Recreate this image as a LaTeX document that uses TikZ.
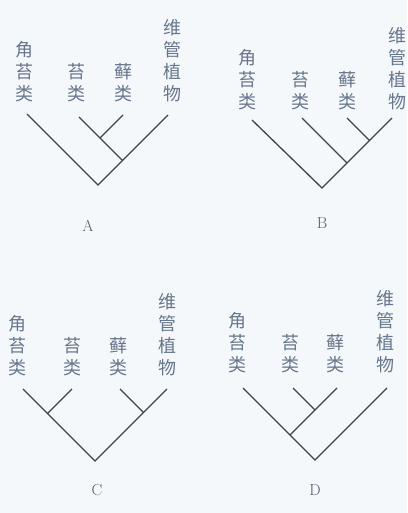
\documentclass[tikz,border=0pt]{standalone}
\usepackage{fontspec}
\newfontfamily\cjk{Noto Sans CJK SC}
\definecolor{bgc}{HTML}{F5F8FA}
\definecolor{txc}{HTML}{66768C}
\definecolor{lnc}{HTML}{3E444C}
\begin{document}
\begin{tikzpicture}[x=1pt,y=-1pt,
  taxon/.style={anchor=south,inner sep=0pt,align=center,text=txc,
    font=\fontsize{18}{22}\selectfont\cjk},
  panel/.style={inner sep=0pt,text=txc!80!black,font=\fontsize{16}{16}\selectfont},
  branch/.style={draw=lnc,line width=1.3pt}]
\fill[bgc] (0,0) rectangle (407,513);
\useasboundingbox (0,0) rectangle (407,513);
% ---------- A ----------
\node[taxon] (A1) at (25,102) {角\\苔\\类};
\node[taxon] (A2) at (76,102) {苔\\类};
\node[taxon] (A3) at (123,102) {藓\\类};
\node[taxon] (A4) at (172,102) {维\\管\\植\\物};
\coordinate (At1) at (27,114);
\coordinate (At2) at (79,117);
\coordinate (At3) at (123,115);
\coordinate (At4) at (168,115);
\coordinate (Ar) at (98,185);
\coordinate (Aj1) at (122.5,160.5);
\coordinate (Aj2) at (100,138);
\draw[branch] (At1) -- (Ar) -- (At4);
\draw[branch] (At2) -- (Aj1);
\draw[branch] (At3) -- (Aj2);
\node[panel] (lA) at (88,226) {A};
% ---------- B ----------
\node[taxon] (B1) at (247,110) {角\\苔\\类};
\node[taxon] (B2) at (300,110) {苔\\类};
\node[taxon] (B3) at (347,110) {藓\\类};
\node[taxon] (B4) at (397,110) {维\\管\\植\\物};
\coordinate (Bt1) at (252,120);
\coordinate (Bt2) at (302,118);
\coordinate (Bt3) at (347,118);
\coordinate (Bt4) at (392,118);
\coordinate (Br) at (322,188);
\coordinate (Bj1) at (347,163);
\coordinate (Bj2) at (369.5,140.5);
\draw[branch] (Bt1) -- (Br) -- (Bt4);
\draw[branch] (Bt2) -- (Bj1);
\draw[branch] (Bt3) -- (Bj2);
\node[panel] (lB) at (322,223) {B};
% ---------- C ----------
\node[taxon] (C1) at (18,376) {角\\苔\\类};
\node[taxon] (C2) at (72,376) {苔\\类};
\node[taxon] (C3) at (118,376) {藓\\类};
\node[taxon] (C4) at (167,376) {维\\管\\植\\物};
\coordinate (Ct1) at (23,389);
\coordinate (Ct2) at (72,389);
\coordinate (Ct3) at (120,389);
\coordinate (Ct4) at (167,389);
\coordinate (Cr) at (95,461);
\coordinate (Cj1) at (47.5,413.5);
\coordinate (Cj2) at (143.5,412.5);
\draw[branch] (Ct1) -- (Cr) -- (Ct4);
\draw[branch] (Ct2) -- (Cj1);
\draw[branch] (Ct3) -- (Cj2);
\node[panel] (lC) at (97,490) {C};
% ---------- D ----------
\node[taxon] (D1) at (237,373) {角\\苔\\类};
\node[taxon] (D2) at (290,373) {苔\\类};
\node[taxon] (D3) at (335,373) {藓\\类};
\node[taxon] (D4) at (385,373) {维\\管\\植\\物};
\coordinate (Dt1) at (243,388);
\coordinate (Dt2) at (293,388);
\coordinate (Dt3) at (337,388);
\coordinate (Dt4) at (387,388);
\coordinate (Dr) at (315,460);
\coordinate (Dj1) at (315,410);
\coordinate (Dj2) at (290,435);
\draw[branch] (Dt1) -- (Dr) -- (Dt4);
\draw[branch] (Dt2) -- (Dj1);
\draw[branch] (Dt3) -- (Dj2);
\node[panel] (lD) at (315,490) {D};
\end{tikzpicture}
\end{document}
